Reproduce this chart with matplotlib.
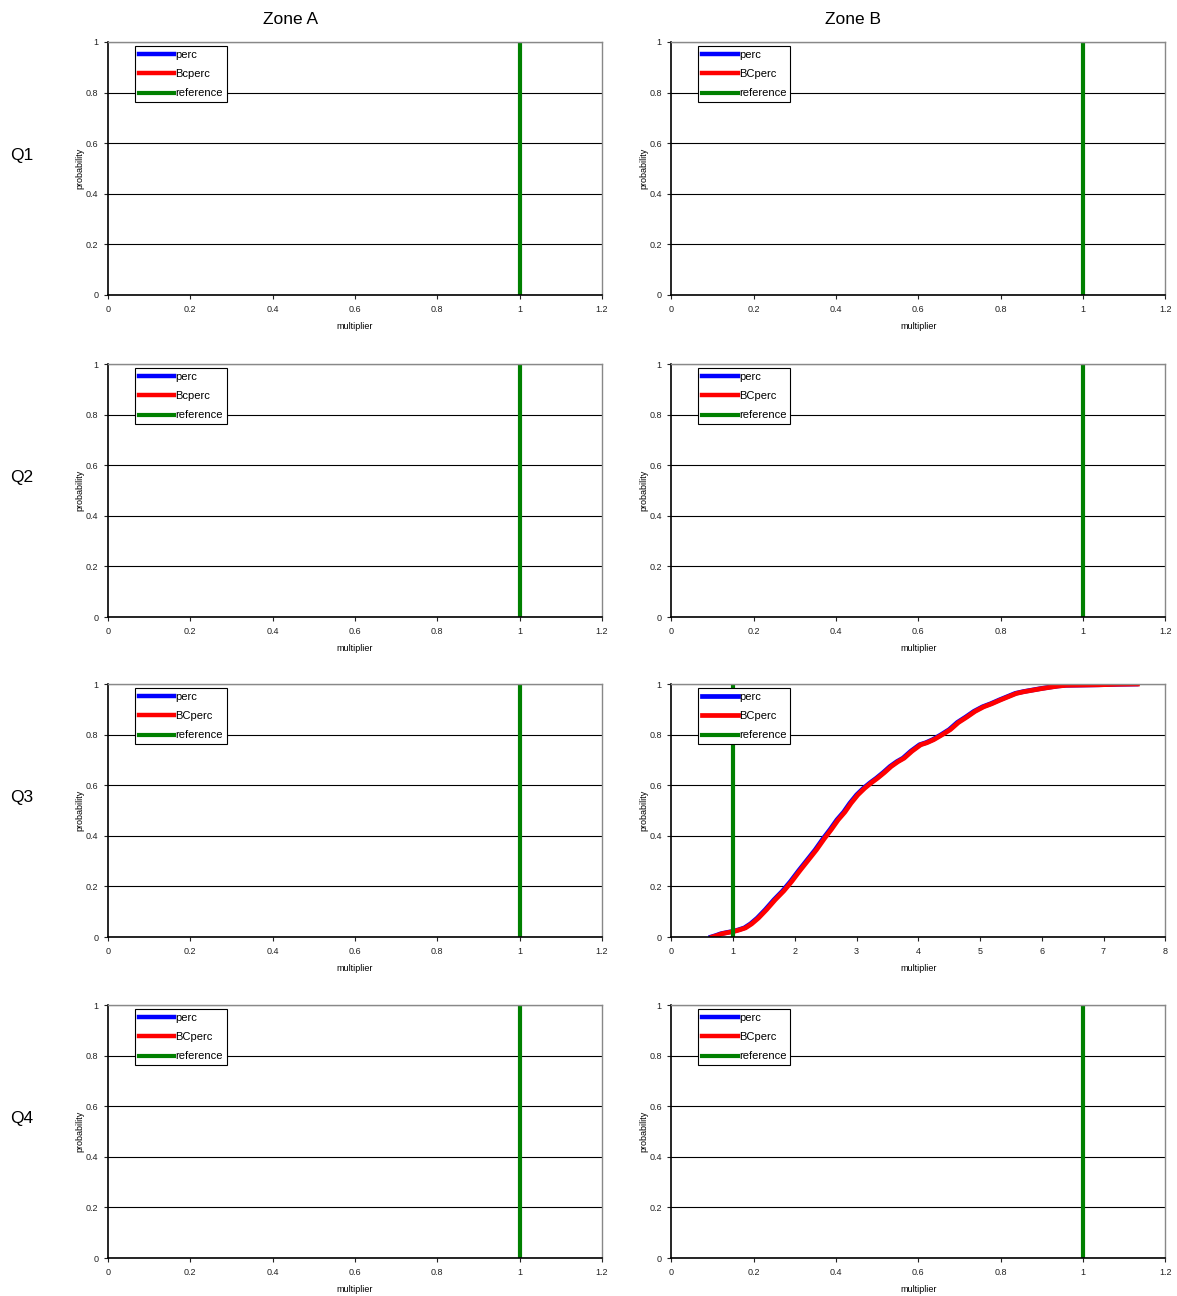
import numpy as np
import matplotlib.pyplot as plt

plt.rcParams['font.family'] = ['Liberation Sans', 'DejaVu Sans']

# ---------------------------------------------------
# Data
# ---------------------------------------------------

zones = ["Zone A", "Zone B"]
quarters = ["Q1", "Q2", "Q3", "Q4"]

# second legend label differs per panel (as in the original workbook)
bc_labels = {
    ("Q1", "Zone A"): "Bcperc", ("Q2", "Zone A"): "Bcperc",
    ("Q3", "Zone A"): "BCperc", ("Q4", "Zone A"): "BCperc",
}

reference_x = 1.0

# Q3 / Zone B empirical distribution (the only panel with data)
perc_x = [0.64, 0.72, 0.80, 0.90, 0.99, 1.08, 1.18, 1.28, 1.39, 1.52, 1.66,
          1.80, 1.93, 2.06, 2.20, 2.33, 2.46, 2.57, 2.68, 2.79, 2.89, 3.00,
          3.11, 3.22, 3.32, 3.43, 3.54, 3.65, 3.75, 3.88, 4.02, 4.12, 4.23,
          4.37, 4.50, 4.63, 4.77, 4.90, 5.04, 5.17, 5.31, 5.44, 5.57, 5.70,
          5.84, 5.98, 6.11, 6.25, 6.38, 6.65, 6.91, 7.22, 7.53]
perc_y = [0.0, 0.006, 0.013, 0.018, 0.022, 0.028, 0.036, 0.052, 0.075, 0.108,
          0.147, 0.182, 0.22, 0.262, 0.305, 0.345, 0.39, 0.425, 0.463, 0.494,
          0.529, 0.562, 0.588, 0.610, 0.628, 0.650, 0.674, 0.693, 0.707,
          0.735, 0.76, 0.768, 0.78, 0.800, 0.82, 0.848, 0.87, 0.892, 0.91,
          0.922, 0.937, 0.950, 0.963, 0.970, 0.976, 0.982, 0.987, 0.992,
          0.995, 0.996, 0.997, 0.999, 1.0]
bcperc_x = [0.66, 0.74, 0.82, 0.92, 1.01, 1.10, 1.20, 1.30, 1.41, 1.54, 1.68,
            1.82, 1.95, 2.08, 2.22, 2.35, 2.48, 2.59, 2.70, 2.81, 2.91, 3.02,
            3.13, 3.24, 3.34, 3.45, 3.56, 3.67, 3.77, 3.90, 4.04, 4.14, 4.25,
            4.39, 4.52, 4.65, 4.79, 4.92, 5.06, 5.19, 5.33, 5.46, 5.59, 5.72,
            5.86, 6.00, 6.13, 6.27, 6.40, 6.67, 6.93, 7.24, 7.55]
bcperc_y = perc_y

xlims = {("Q3", "Zone B"): (0, 8)}
xticks_default = [0, 0.2, 0.4, 0.6, 0.8, 1, 1.2]
xticks_wide = [0, 1, 2, 3, 4, 5, 6, 7, 8]
yticks = [0, 0.2, 0.4, 0.6, 0.8, 1]

# ---------------------------------------------------
# Figure layout
# ---------------------------------------------------

fig = plt.figure(figsize=(11.77, 12.96), dpi=100)

lefts = [0.0918, 0.5705]
width = 0.4195
bottoms = [0.7724, 0.5239, 0.2770, 0.0293]
height = 0.1952

for r, q in enumerate(quarters):
    for c, z in enumerate(zones):
        ax = fig.add_axes([lefts[c], bottoms[r], width, height])

        if (q, z) == ("Q3", "Zone B"):
            ax.plot(perc_x, perc_y, color="blue", lw=3.4, label="perc")
            ax.plot(bcperc_x, bcperc_y, color="red", lw=3.4,
                    label=bc_labels.get((q, z), "BCperc"))
        else:
            ax.plot([], [], color="blue", lw=3.2, label="perc")
            ax.plot([], [], color="red", lw=3.2,
                    label=bc_labels.get((q, z), "BCperc"))
        ax.plot([reference_x, reference_x], [0, 1], color="green", lw=3,
                label="reference")

        lim = xlims.get((q, z), (0, 1.2))
        ax.set_xlim(*lim)
        ax.set_ylim(0, 1)
        ax.set_xticks(xticks_wide if lim[1] == 8 else xticks_default)
        ax.set_xticklabels([f"{t:g}" for t in ax.get_xticks()])
        ax.set_yticks(yticks)
        ax.set_yticklabels([f"{t:g}" for t in yticks])
        ax.tick_params(labelsize=6.5, length=3, width=0.8, direction="out",
                       pad=4, colors="#222222")

        ax.grid(axis="y", color="black", lw=0.8)
        ax.set_axisbelow(True)
        for side in ["left", "bottom"]:
            ax.spines[side].set_color("black")
            ax.spines[side].set_linewidth(1.2)
        for side in ["top", "right"]:
            ax.spines[side].set_color("#888888")
            ax.spines[side].set_linewidth(1.0)

        ax.set_xlabel("multiplier", fontsize=6.5, labelpad=6)
        ax.set_ylabel("probability", fontsize=6.5)
        ax.yaxis.set_label_coords(-0.047, 0.5)

        leg = ax.legend(loc="upper left", bbox_to_anchor=(0.052, 0.99),
                        fontsize=8, handlelength=3.2, handletextpad=0.1,
                        borderpad=0.35, labelspacing=0.85, fancybox=False,
                        framealpha=1, borderaxespad=0.1)
        leg.get_frame().set_edgecolor("black")
        leg.get_frame().set_linewidth(0.8)

    fig.text(22 / 1177, bottoms[r] + height * 0.55, q, fontsize=12.5,
             ha="center", va="center")

zone_x = [291, 853]
for c, z in enumerate(zones):
    fig.text(zone_x[c] / 1177, 1 - 19 / 1296, z, fontsize=12.5,
             ha="center", va="center")

fig.savefig("out.png", dpi=100)
